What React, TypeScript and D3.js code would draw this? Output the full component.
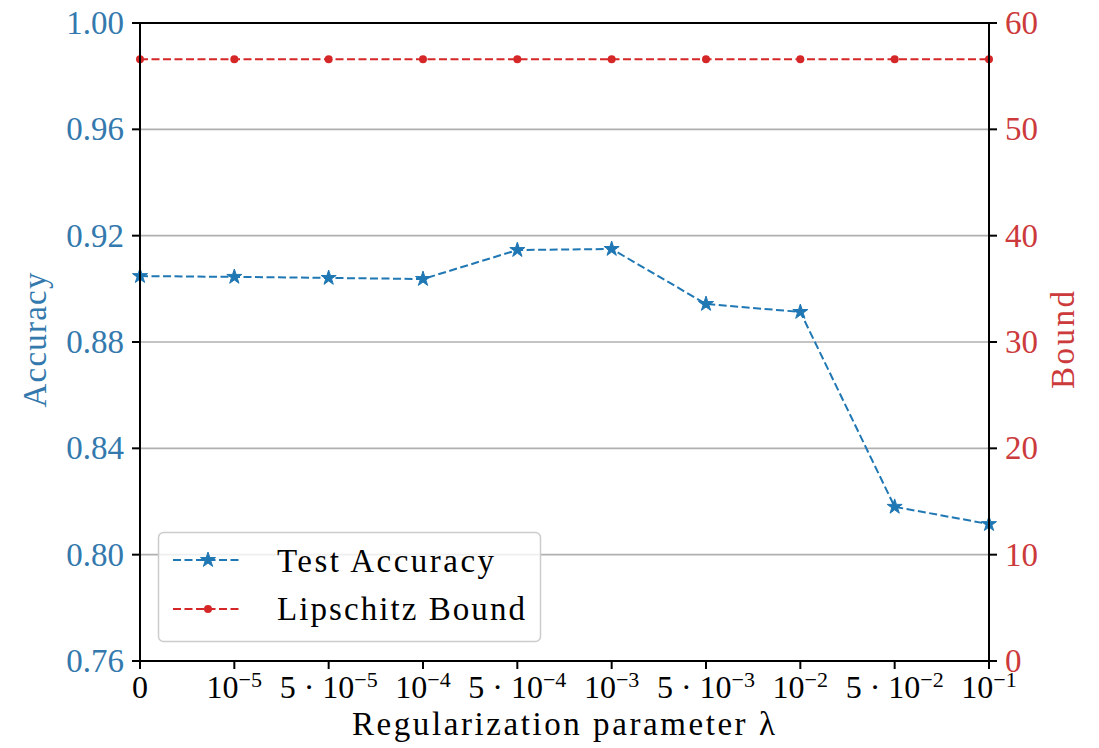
import React from 'react';
import * as d3 from 'd3';

const categories = ['0', '1e-5', '5e-5', '1e-4', '5e-4', '1e-3', '5e-3', '1e-2', '5e-2', '1e-1'];
const tickMantissa = ['0', '10', '5 · 10', '10', '5 · 10', '10', '5 · 10', '10', '5 · 10', '10'];
const tickExponent = ['', '−5', '−5', '−4', '−4', '−3', '−3', '−2', '−2', '−1'];
const testAccuracy = [0.9048, 0.9045, 0.9041, 0.9037, 0.9146, 0.915, 0.8943, 0.8913, 0.818, 0.8115];
const lipschitzBound = [56.6, 56.6, 56.6, 56.6, 56.6, 56.6, 56.6, 56.6, 56.6, 56.6];
const accTicks = [0.76, 0.8, 0.84, 0.88, 0.92, 0.96, 1.0];
const boundTicks = [0, 10, 20, 30, 40, 50, 60];

const BLUE = '#1f77b4';
const BLUE_TXT = '#3479ad';
const RED = '#d62728';
const RED_TXT = '#cc3a3c';
const FONT = 'Liberation Serif, DejaVu Serif, serif';

export default function App() {
  const left = 140, right = 989, top = 23, bottom = 661;
  const x = d3.scalePoint<string>().domain(categories).range([left, right]);
  const yAcc = d3.scaleLinear().domain([0.76, 1.0]).range([bottom, top]);
  const yBound = d3.scaleLinear().domain([0, 60]).range([bottom, top]);

  const accLine = d3.line<number>().x((_, i) => x(categories[i])!).y(d => yAcc(d));
  const boundLine = d3.line<number>().x((_, i) => x(categories[i])!).y(d => yBound(d));
  const star = d3.symbol().type(d3.symbolStar).size(70)()!;

  const dash = '8,3.5';
  const txt = { fontFamily: FONT };

  return (
    <svg width={1099} height={748} style={{ position: 'absolute', left: 0, top: 0, background: '#fff', fontFamily: FONT }}>
      <rect x={0} y={0} width={1099} height={748} fill="#fff" />
      {/* grid */}
      {accTicks.map(t => (
        <line key={'g' + t} x1={left} x2={right} y1={yAcc(t)} y2={yAcc(t)} stroke="#b0b0b0" strokeWidth={1.6} />
      ))}
      {/* accuracy line */}
      <path d={accLine(testAccuracy)!} fill="none" stroke={BLUE} strokeWidth={2} strokeDasharray={dash} />
      {testAccuracy.map((v, i) => (
        <path key={'s' + i} d={star} transform={`translate(${x(categories[i])},${yAcc(v)})`} fill={BLUE} stroke={BLUE} strokeWidth={1} />
      ))}
      {/* bound line */}
      <path d={boundLine(lipschitzBound)!} fill="none" stroke={RED} strokeWidth={2} strokeDasharray={dash} />
      {lipschitzBound.map((v, i) => (
        <circle key={'c' + i} cx={x(categories[i])} cy={yBound(v)} r={4} fill={RED} />
      ))}
      {/* spines */}
      <rect x={left} y={top} width={right - left} height={bottom - top} fill="none" stroke="#000" strokeWidth={2} />
      {/* left ticks */}
      {accTicks.map(t => (
        <g key={'la' + t}>
          <line x1={left - 8} x2={left} y1={yAcc(t)} y2={yAcc(t)} stroke="#000" strokeWidth={2} />
          <text x={left - 16} y={yAcc(t) + 11} textAnchor="end" fontSize={33} fill={BLUE_TXT} style={txt}>{t.toFixed(2)}</text>
        </g>
      ))}
      {/* right ticks */}
      {boundTicks.map(t => (
        <g key={'rb' + t}>
          <line x1={right} x2={right + 8} y1={yBound(t)} y2={yBound(t)} stroke="#000" strokeWidth={2} />
          <text x={right + 16} y={yBound(t) + 11} textAnchor="start" fontSize={33} fill={RED_TXT} style={txt}>{t}</text>
        </g>
      ))}
      {/* x ticks */}
      {categories.map((c, i) => (
        <g key={'xt' + c}>
          <line x1={x(c)} x2={x(c)} y1={bottom} y2={bottom + 8} stroke="#000" strokeWidth={2} />
          <text x={x(c)} y={698} textAnchor="middle" fontSize={32} fill="#000" style={txt}>
            <tspan>{tickMantissa[i]}</tspan>
            {tickExponent[i] && (
              <tspan dy={-11} fontSize={22}>{tickExponent[i]}</tspan>
            )}
          </text>
        </g>
      ))}
      {/* axis labels */}
      <text x={(left + right) / 2 - 1} y={735} textAnchor="middle" fontSize={33} fill="#000" style={txt} textLength={423} lengthAdjust="spacing">
        Regularization parameter λ
      </text>
      <text transform={`translate(46,340) rotate(-90)`} textAnchor="middle" fontSize={33} fill={BLUE_TXT} style={txt} textLength={135} lengthAdjust="spacing">
        Accuracy
      </text>
      <text transform={`translate(1074,340) rotate(-90)`} textAnchor="middle" fontSize={33} fill={RED_TXT} style={txt} textLength={98} lengthAdjust="spacing">
        Bound
      </text>
      {/* legend */}
      <rect x={158.5} y={532.5} width={382} height={109} rx={5} fill="#fff" fillOpacity={0.8} stroke="#cccccc" strokeWidth={1.5} />
      <line x1={173} x2={242} y1={560} y2={560} stroke={BLUE} strokeWidth={2} strokeDasharray={dash} />
      <path d={star} transform="translate(208,560)" fill={BLUE} stroke={BLUE} strokeWidth={1} />
      <text x={277} y={572} fontSize={33} fill="#000" style={txt} textLength={217} lengthAdjust="spacing">Test Accuracy</text>
      <line x1={173} x2={242} y1={609} y2={609} stroke={RED} strokeWidth={2} strokeDasharray={dash} />
      <circle cx={208} cy={609} r={4} fill={RED} />
      <text x={277} y={620} fontSize={33} fill="#000" style={txt} textLength={248} lengthAdjust="spacing">Lipschitz Bound</text>
    </svg>
  );
}
